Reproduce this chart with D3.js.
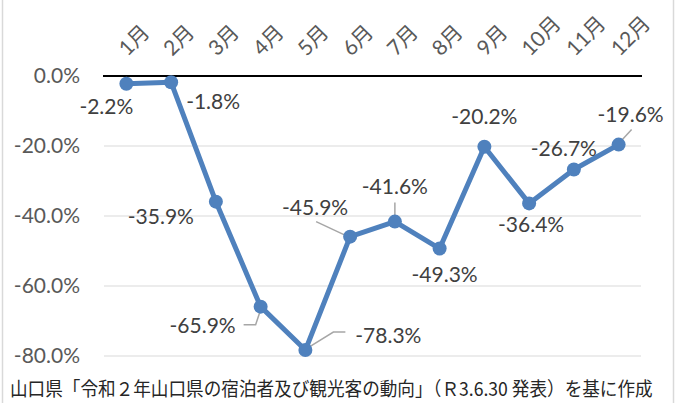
<!DOCTYPE html>
<html lang="ja">
<head>
<meta charset="utf-8">
<script src="https://cdn.jsdelivr.net/npm/d3@7"></script>
<style>
  body { margin: 0; background: #fff; }
  svg { display: block; }
  .tick-lbl { font-family: Lato, "Noto Sans CJK JP", sans-serif; fill: #595959; }
  .data-lbl { font-family: Lato, "Noto Sans CJK JP", sans-serif; fill: #404040; }
</style>
</head>
<body>
<svg id="chart" width="679" height="403"></svg>
<script>
/* ── Data ───────────────────────────────────────────────── */
const months = ["1月","2月","3月","4月","5月","6月","7月","8月","9月","10月","11月","12月"];
const change = [-2.2, -1.8, -35.9, -65.9, -78.3, -45.9, -41.6, -49.3, -20.2, -36.4, -26.7, -19.6];
const yTicks = [0, -20, -40, -60, -80];
const source = "山口県「令和２年山口県の宿泊者及び観光客の動向」（Ｒ3.6.30 発表）を基に作成";

/* ── Label placement (offset of label centre from its point) ── */
const labelOffset = [
  [-20, 22], [42, 18], [-55, 14], [-58, 18], [83, -16], [-35, -30],
  [0, -36], [5, 25], [0, -31], [2, 20], [-10, -22], [12, -31]
];
/* leader lines, as offsets from the point */
const leaders = {
  3: [[-17, 18], [-5, 18], [-1, 6]],
  4: [[40, -18], [28, -18], [2, -2]],
  5: [[-34, -15], [-2, 0]],
  6: [[0, -19], [0, -3]],
  11: [[13, -15], [1, -2]]
};

const svg = d3.select("#chart");
const W = 679, H = 403;
const x = d3.scaleBand().domain(months).range([104, 641]);
const y = d3.scaleLinear().domain([-80, 0]).range([356, 76]);
const fmt = d => (d === 0 ? 0 : d).toFixed(1) + "%";

/* chart frame */
svg.append("line").attr("x1", 2.5).attr("x2", 2.5).attr("y1", 0).attr("y2", H)
  .attr("stroke", "#d9d9d9").attr("stroke-width", 1.5);
svg.append("line").attr("x1", 673.5).attr("x2", 673.5).attr("y1", 0).attr("y2", H)
  .attr("stroke", "#d9d9d9").attr("stroke-width", 1.5);

/* gridlines */
svg.append("g").selectAll("line")
  .data(yTicks.filter(d => d !== 0))
  .join("line")
  .attr("x1", 104).attr("x2", 641)
  .attr("y1", d => y(d)).attr("y2", d => y(d))
  .attr("stroke", "#d9d9d9").attr("stroke-width", 1.2);

/* y axis labels */
const yAxis = svg.append("g")
  .attr("transform", "translate(104,0)")
  .call(d3.axisLeft(y).tickValues(yTicks).tickFormat(fmt).tickSize(0).tickPadding(24));
yAxis.select(".domain").remove();
yAxis.selectAll("text").attr("class", "tick-lbl").style("font-size", "21px")
  .attr("font-family", null);

/* zero line */
svg.append("line")
  .attr("x1", 103).attr("x2", 642)
  .attr("y1", y(0)).attr("y2", y(0))
  .attr("stroke", "#000").attr("stroke-width", 2);

/* month labels, rotated */
svg.append("g").selectAll("text")
  .data(months)
  .join("text")
  .attr("class", "tick-lbl")
  .style("font-size", "21px")
  .attr("transform", d => `translate(${x(d) + x.bandwidth() / 2 + 1},57) rotate(-45)`)
  .text(d => d);

/* series line */
const pts = months.map((m, i) => ({ m, v: change[i], i }));
const cx = d => x(d.m) + x.bandwidth() / 2;
svg.append("path")
  .datum(pts)
  .attr("fill", "none")
  .attr("stroke", "#4f81bd")
  .attr("stroke-width", 5)
  .attr("stroke-linejoin", "round")
  .attr("d", d3.line().x(cx).y(d => y(d.v)));

/* leader lines */
const leaderG = svg.append("g");
Object.entries(leaders).forEach(([i, pl]) => {
  const p = pts[+i];
  leaderG.append("polyline")
    .attr("points", pl.map(o => [cx(p) + o[0], y(p.v) + o[1]].join(",")).join(" "))
    .attr("fill", "none").attr("stroke", "#a6a6a6").attr("stroke-width", 1.5);
});

/* markers */
svg.append("g").selectAll("circle")
  .data(pts)
  .join("circle")
  .attr("cx", cx).attr("cy", d => y(d.v))
  .attr("r", 7)
  .attr("fill", "#4f81bd");

/* data labels */
svg.append("g").selectAll("text")
  .data(pts)
  .join("text")
  .attr("class", "data-lbl")
  .style("font-size", "21px")
  .attr("text-anchor", "middle")
  .attr("dominant-baseline", "central")
  .attr("x", d => cx(d) + labelOffset[d.i][0])
  .attr("y", d => y(d.v) + labelOffset[d.i][1])
  .text(d => fmt(d.v));

/* source note — squeezed horizontally like the original condensed font */
const note = svg.append("text")
  .attr("transform", "translate(10,396)")
  .style("font-family", "'Noto Sans CJK JP', sans-serif")
  .style("font-size", "19px")
  .attr("fill", "#262626")
  .text(source);
const nw = note.node().getComputedTextLength();
note.attr("transform", `translate(10,396) scale(${643 / nw},1)`);
</script>
</body>
</html>
